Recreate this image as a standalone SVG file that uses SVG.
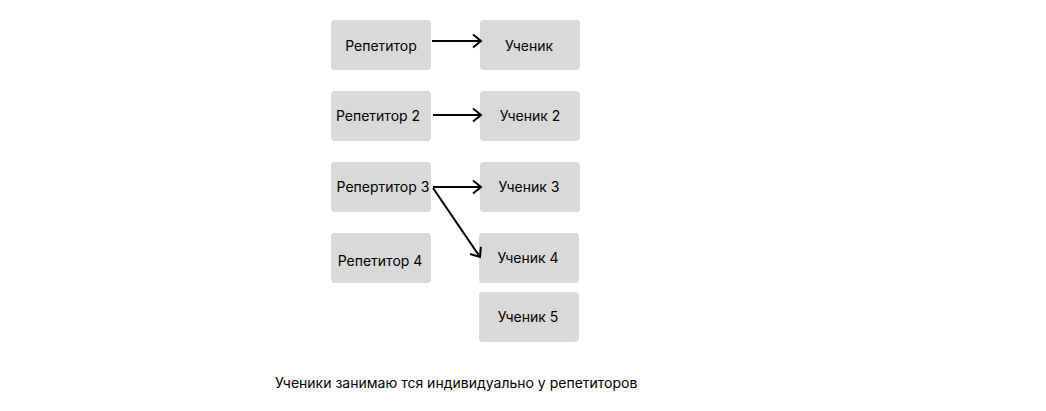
<svg xmlns="http://www.w3.org/2000/svg" width="1046" height="411" viewBox="0 0 1046 411">
<defs>
<style>
.box{fill:#d9d9d9;}
.t{font-family:Inter,"Liberation Sans",sans-serif;font-size:14px;fill:#000;text-anchor:middle;}
.c{stroke:#000;stroke-width:2;fill:none;}
.note{font-family:Inter,"Liberation Sans",sans-serif;font-size:14px;fill:#000;}
</style>
<marker id="ah" viewBox="0 0 12 16" refX="10" refY="8" markerWidth="12" markerHeight="16" markerUnits="userSpaceOnUse" orient="auto">
<path d="M2,1.5 L10,8 L2,14.5" fill="none" stroke="#000" stroke-width="2"/>
</marker>
</defs>
<rect width="1046" height="411" fill="#fff"/>
<g id="rep1"><rect class="box" x="331" y="20" width="100" height="50" rx="4"/><text class="t" x="381" y="51">Репетитор</text></g>
<g id="rep2"><rect class="box" x="331" y="91" width="100" height="50" rx="4"/><text class="t" x="378" y="121">Репетитор 2</text></g>
<g id="rep3"><rect class="box" x="331" y="162" width="100" height="50" rx="4"/><text class="t" x="383" y="192">Репертитор 3</text></g>
<g id="rep4"><rect class="box" x="331" y="233" width="100" height="50" rx="4"/><text class="t" x="380" y="266">Репетитор 4</text></g>
<g id="st1"><rect class="box" x="480" y="20" width="100" height="50" rx="4"/><text class="t" x="529" y="51">Ученик</text></g>
<g id="st2"><rect class="box" x="480" y="91" width="100" height="50" rx="4"/><text class="t" x="530" y="121">Ученик 2</text></g>
<g id="st3"><rect class="box" x="480" y="162" width="100" height="50" rx="4"/><text class="t" x="529" y="192">Ученик 3</text></g>
<g id="st4"><rect class="box" x="479" y="233" width="100" height="50" rx="4"/><text class="t" x="528" y="263">Ученик 4</text></g>
<g id="st5"><rect class="box" x="479" y="292" width="100" height="50" rx="4"/><text class="t" x="528" y="322">Ученик 5</text></g>
<g id="connectors">
<line class="c" x1="432" y1="41" x2="481" y2="41" marker-end="url(#ah)"/>
<line class="c" x1="433" y1="115" x2="481" y2="115" marker-end="url(#ah)"/>
<line class="c" x1="433" y1="187" x2="481" y2="187" marker-end="url(#ah)"/>
<line class="c" x1="433" y1="188" x2="480" y2="257" marker-end="url(#ah)"/>
</g>
<text class="note" x="275" y="388">Ученики занимаю тся индивидуально у репетиторов</text>
</svg>
